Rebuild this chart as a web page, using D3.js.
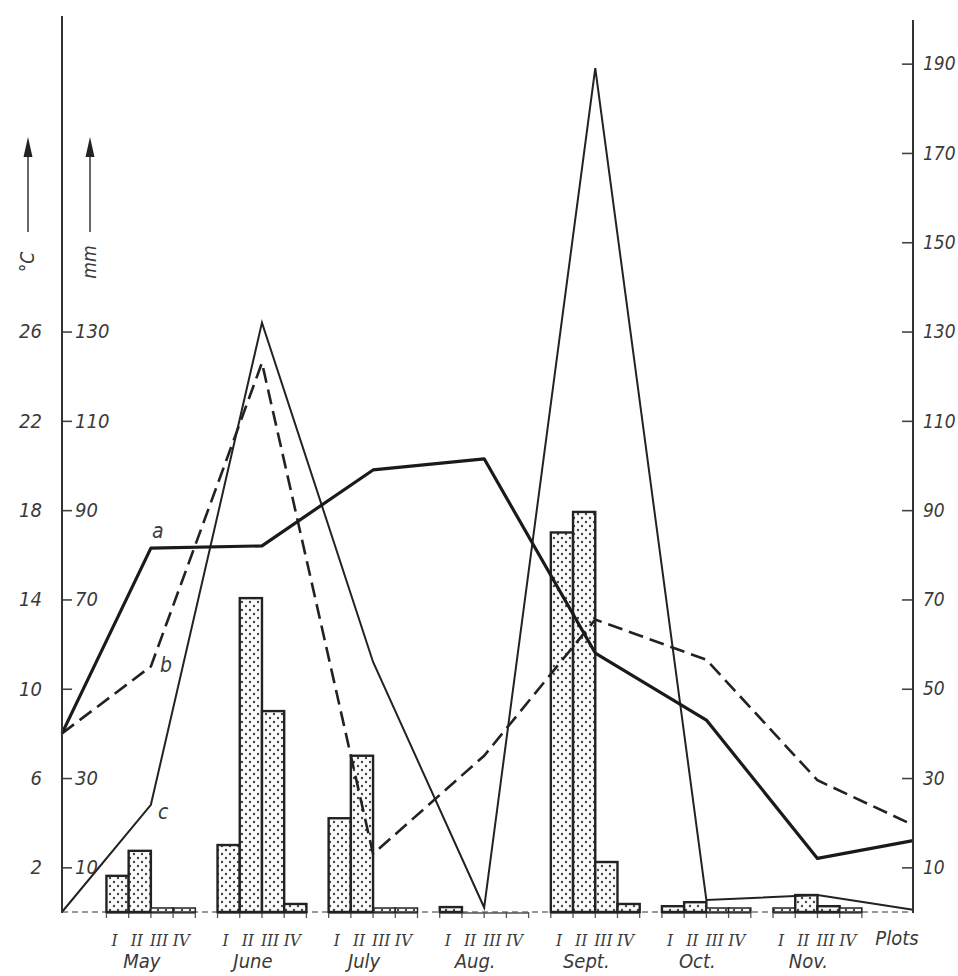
<!DOCTYPE html>
<html>
<head>
<meta charset="utf-8">
<script src="https://cdn.jsdelivr.net/npm/d3@7"></script>
<style>
  body { margin: 0; background: #fff; }
  text { font-family: "DejaVu Sans Condensed", "DejaVu Sans", sans-serif; font-style: italic; fill: #3a3a3a; }
  .roman { font-family: "DejaVu Serif Condensed", "DejaVu Serif", serif; font-style: italic; }
</style>
</head>
<body>
<div id="chart"></div>
<script>
// months and ten-day periods
var months = ["May", "June", "July", "Aug.", "Sept.", "Oct.", "Nov."];
var decades = ["I", "II", "III", "IV"];

// bars, mm, one row per month (I..IV)
var barMay  = [8.1, 13.7, 0.9, 0.3];
var barJune = [15, 70.3, 45, 1.8];
var barJuly = [21, 35, 0.3, 0.3];
var barAug  = [1.1, 0, 0, 0];
var barSept = [85, 89.6, 11.2, 1.8];
var barOct  = [1.3, 2.2, 0.3, 0.3];
var barNov  = [0.3, 3.8, 1.3, 0.3];
var bars = [barMay, barJune, barJuly, barAug, barSept, barOct, barNov];

// lines: start, May..Nov, end
var lineA = [8.0, 16.3, 16.4, 19.8, 20.3, 11.6, 8.6, 2.4, 3.2];   // °C
var lineB = [8.0, 11.0, 24.6, 2.6, 7.0, 13.1, 11.3, 5.9, 3.9];    // °C
var lineC = [0, 24, 132, 56, 1, 189, 2.7, 3.8, 0.5];              // mm

// tick labels
var tempTicks = [2, 6, 10, 14, 18, 22, 26];
var mmTicksLeft = [10, 30, 50, 70, 90, 110, 130];
var mmLabelsLeft = [10, 30, 70, 90, 110, 130];
var mmTicksRight = [10, 30, 50, 70, 90, 110, 130, 150, 170, 190];

var width = 958, height = 976;
var x0 = 62, x1 = 913, base = 912;

var svg = d3.select("#chart").append("svg")
    .attr("width", width)
    .attr("height", height);

svg.append("rect").attr("width", width).attr("height", height).attr("fill", "#fff");

// dotted fill for the bars
var pat = svg.append("defs").append("pattern")
    .attr("id", "dots")
    .attr("patternUnits", "userSpaceOnUse")
    .attr("width", 8).attr("height", 8);
pat.append("rect").attr("width", 8).attr("height", 8).attr("fill", "#fbfbfb");
pat.append("circle").attr("cx", 2).attr("cy", 2).attr("r", 1.2).attr("fill", "#444");
pat.append("circle").attr("cx", 6).attr("cy", 6).attr("r", 1.2).attr("fill", "#444");

// scales
var xSlot = d3.scaleLinear().domain([0, 38.3]).range([x0, x1]);
var yMm = d3.scaleLinear().domain([0, 190]).range([base, base - 190 * 4.465]);
var yT = d3.scaleLinear().domain([0, 38]).range(yMm.range());

var slotOf = function(m, d) { return 2 + 5 * m + d; };
var linePos = [0, 4, 9, 14, 19, 24, 29, 34, 38.3];

// baseline
svg.append("line")
    .attr("x1", x0).attr("x2", x1)
    .attr("y1", base).attr("y2", base)
    .attr("stroke", "#777").attr("stroke-width", 1.5)
    .attr("stroke-dasharray", "6,4");

// small ticks under each month group
months.forEach(function(m, i) {
    for (var k = 0; k <= 4; k++) {
        var xx = xSlot(slotOf(i, k));
        svg.append("line")
            .attr("x1", xx).attr("x2", xx)
            .attr("y1", base).attr("y2", base + 6)
            .attr("stroke", "#555").attr("stroke-width", 1.3);
    }
    svg.append("line")
        .attr("x1", xSlot(slotOf(i, 0))).attr("x2", xSlot(slotOf(i, 4)))
        .attr("y1", base + 1).attr("y2", base + 1)
        .attr("stroke", "#555").attr("stroke-width", 1.3);
});

// bars
var barData = [];
bars.forEach(function(row, m) {
    row.forEach(function(v, d) {
        if (v > 0) barData.push({ m: m, d: d, v: v });
    });
});

var minH = 4;
svg.append("g").selectAll("rect")
    .data(barData)
    .enter()
    .append("rect")
    .attr("x", d => xSlot(slotOf(d.m, d.d)))
    .attr("width", d => xSlot(slotOf(d.m, d.d) + 1) - xSlot(slotOf(d.m, d.d)))
    .attr("y", d => Math.min(yMm(d.v), base - minH))
    .attr("height", d => base - Math.min(yMm(d.v), base - minH))
    .attr("fill", "url(#dots)")
    .attr("stroke", "#222")
    .attr("stroke-width", d => d.v < 1 ? 1.5 : 2.4);

// lines
var lineGen = function(scale) {
    return d3.line()
        .x((d, i) => xSlot(linePos[i]))
        .y(d => scale(d));
};

svg.append("path")
    .attr("d", lineGen(yMm)(lineC))
    .attr("fill", "none").attr("stroke", "#222").attr("stroke-width", 2);

svg.append("path")
    .attr("d", lineGen(yT)(lineB))
    .attr("fill", "none").attr("stroke", "#222").attr("stroke-width", 2.6)
    .attr("stroke-dasharray", "15,7");

svg.append("path")
    .attr("d", lineGen(yT)(lineA))
    .attr("fill", "none").attr("stroke", "#1a1a1a").attr("stroke-width", 3.2)
    .attr("stroke-linejoin", "round");

// line letters
svg.append("text").attr("x", xSlot(4) + 1).attr("y", yT(lineA[1]) - 10).attr("font-size", 21).text("a");
svg.append("text").attr("x", xSlot(4) + 9).attr("y", yT(lineB[1]) + 6).attr("font-size", 21).text("b");
svg.append("text").attr("x", xSlot(4) + 7).attr("y", yMm(lineC[1]) + 14).attr("font-size", 21).text("c");

// left axis
svg.append("line")
    .attr("x1", x0).attr("x2", x0).attr("y1", 16).attr("y2", base + 1)
    .attr("stroke", "#333").attr("stroke-width", 2);

var leftAxis = d3.axisRight(yMm)
    .tickValues(mmTicksLeft)
    .tickSize(9)
    .tickFormat(d => mmLabelsLeft.indexOf(d) >= 0 ? d : "");
var gl = svg.append("g")
    .attr("transform", `translate(${x0 + 1}, 0)`)
    .call(leftAxis);
gl.select(".domain").remove();
gl.selectAll(".tick line").attr("stroke", "#444").attr("stroke-width", 1.6);
gl.selectAll(".tick text")
    .attr("x", 12)
    .attr("font-size", 20)
    .style("font-family", "'DejaVu Sans Condensed', 'DejaVu Sans', sans-serif")
    .style("font-style", "italic")
    .attr("fill", "#3a3a3a");

var tempAxis = d3.axisLeft(yT).tickValues(tempTicks).tickSize(0);
var gt = svg.append("g")
    .attr("transform", `translate(${x0 - 17}, 0)`)
    .call(tempAxis);
gt.select(".domain").remove();
gt.selectAll(".tick text")
    .attr("font-size", 20)
    .style("font-family", "'DejaVu Sans Condensed', 'DejaVu Sans', sans-serif")
    .style("font-style", "italic")
    .attr("fill", "#3a3a3a");

// right axis
svg.append("line")
    .attr("x1", x1).attr("x2", x1).attr("y1", 20).attr("y2", base + 1)
    .attr("stroke", "#333").attr("stroke-width", 2);

var rightAxis = d3.axisLeft(yMm).tickValues(mmTicksRight).tickSize(10).tickFormat(d => "");
var gr = svg.append("g")
    .attr("transform", `translate(${x1 - 1}, 0)`)
    .call(rightAxis);
gr.select(".domain").remove();
gr.selectAll(".tick line").attr("stroke", "#444").attr("stroke-width", 1.6);

svg.append("g").selectAll("text")
    .data(mmTicksRight)
    .enter()
    .append("text")
    .attr("x", x1 + 10)
    .attr("y", d => yMm(d))
    .attr("dy", "0.35em")
    .attr("font-size", 19)
    .text(d => d);

// unit arrows
var arrows = [{ x: 28, label: "°C" }, { x: 90, label: "mm" }];
arrows.forEach(function(a) {
    svg.append("line")
        .attr("x1", a.x).attr("x2", a.x).attr("y1", 232).attr("y2", 150)
        .attr("stroke", "#444").attr("stroke-width", 1.6);
    svg.append("path")
        .attr("d", `M${a.x},137 L${a.x - 4.5},157 L${a.x + 4.5},157 Z`)
        .attr("fill", "#222");
    svg.append("text")
        .attr("transform", `translate(${a.x + 6}, 262) rotate(-90)`)
        .attr("text-anchor", "middle")
        .attr("font-size", 19)
        .text(a.label);
});

// decade numerals and month names
months.forEach(function(m, i) {
    decades.forEach(function(dl, k) {
        svg.append("text")
            .attr("class", "roman")
            .attr("x", xSlot(slotOf(i, k) + 0.5) - 3)
            .attr("y", 946)
            .attr("text-anchor", "middle")
            .attr("font-size", 17)
            .text(dl);
    });
    svg.append("text")
        .attr("x", xSlot(slotOf(i, 2)) - 9)
        .attr("y", 968)
        .attr("text-anchor", "middle")
        .attr("font-size", 20)
        .text(m);
});

svg.append("text")
    .attr("x", 897).attr("y", 945)
    .attr("text-anchor", "middle")
    .attr("font-size", 20)
    .text("Plots");
</script>
</body>
</html>
